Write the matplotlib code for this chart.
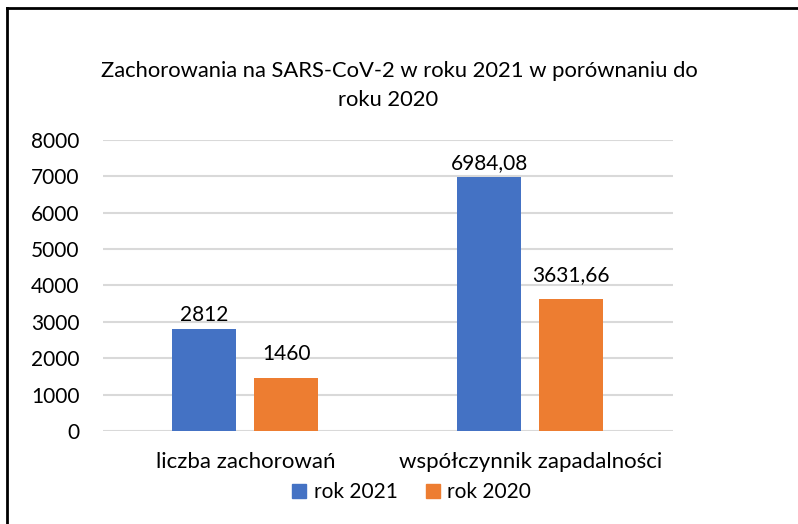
import matplotlib.pyplot as plt
import numpy as np
from matplotlib.lines import Line2D

plt.rcParams["font.family"] = ["Lato", "DejaVu Sans"]

categories = ["liczba zachorowań", "współczynnik zapadalności"]
series_names = ["rok 2021", "rok 2020"]
values_2021 = [2812, 6984.08]
values_2020 = [1460, 3631.66]
labels_2021 = ["2812", "6984,08"]
labels_2020 = ["1460", "3631,66"]
yticks = [0, 1000, 2000, 3000, 4000, 5000, 6000, 7000, 8000]

blue = "#4472C4"
orange = "#ED7D31"

fig = plt.figure(figsize=(7.98, 5.24), dpi=100)
ax = fig.add_axes([0.129, 0.1775, 0.714, 0.5555])

x = np.arange(len(categories))
w = 0.225
off = 0.144
b1 = ax.bar(x - off, values_2021, w, color=blue, label=series_names[0], zorder=3)
b2 = ax.bar(x + off, values_2020, w, color=orange, label=series_names[1], zorder=3)

for rect, lab in zip(b1, labels_2021):
    ax.annotate(lab, (rect.get_x() + rect.get_width() / 2, rect.get_height()),
                xytext=(0, 2.5), textcoords="offset points", ha="center", va="bottom", fontsize=15)
for rect, lab in zip(b2, labels_2020):
    ax.annotate(lab, (rect.get_x() + rect.get_width() / 2, rect.get_height()),
                xytext=(0, 10), textcoords="offset points", ha="center", va="bottom", fontsize=15)

ax.set_xlim(-0.5, 1.5)
ax.set_ylim(0, 8000)
ax.set_yticks(yticks)
ax.set_yticklabels([str(t) for t in yticks], fontsize=15)
ax.set_xticks(x)
ax.set_xticklabels(categories, fontsize=16)
ax.tick_params(length=0, pad=17, axis="y")
ax.tick_params(length=0, pad=15, axis="x")
ax.grid(axis="y", color="#d9d9d9", linewidth=1.5, zorder=0)
for s in ax.spines.values():
    s.set_visible(False)

fig.text(0.5, 1 - 71 / 524, "Zachorowania na SARS-CoV-2 w roku 2021 w porównaniu do",
         ha="center", va="center", fontsize=15.8)
fig.text(0.486, 1 - 100 / 524, "roku 2020", ha="center", va="center", fontsize=15.8)

handles = [Line2D([], [], marker="s", linestyle="", markersize=9.5, color=blue),
           Line2D([], [], marker="s", linestyle="", markersize=9.5, color=orange)]
fig.legend(handles, series_names, loc="center", bbox_to_anchor=(0.515, 1 - 492 / 524),
           ncol=2, frameon=False, fontsize=15, handlelength=0.8, handletextpad=0.3,
           columnspacing=1.3)

# frame lines (top and left only)
fig.add_artist(Line2D([6.5 / 798, 1], [1 - 7.5 / 524, 1 - 7.5 / 524], color="black", linewidth=2))
fig.add_artist(Line2D([6.5 / 798, 6.5 / 798], [0, 1 - 7.5 / 524], color="black", linewidth=2))

fig.savefig("out.png", dpi=100)
